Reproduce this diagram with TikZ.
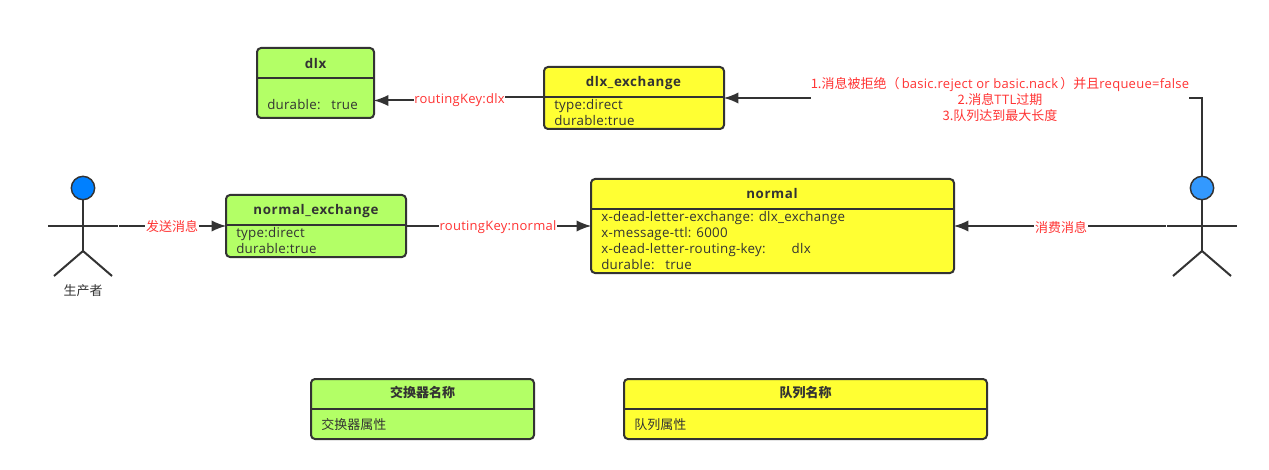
\documentclass[tikz,border=0pt]{standalone}
\usepackage{fontspec}
\setmainfont[LetterSpace=2,BoldFeatures={LetterSpace=4.5}]{Open Sans}
\newfontfamily\cjk{Noto Sans CJK SC}
\usetikzlibrary{arrows.meta}
\definecolor{ink}{HTML}{333333}
\definecolor{redt}{HTML}{FF3333}
\definecolor{gbox}{HTML}{B3FF66}
\definecolor{ybox}{HTML}{FFFF33}
\definecolor{headA}{HTML}{0080FF}
\definecolor{headB}{HTML}{3399FF}
\newlength{\pxu}\setlength{\pxu}{0.75pt}
\tikzset{
 x=0.75pt,y=-0.75pt,
 box/.style={draw=ink,line width=1.5pt,rounded corners=3pt,inner sep=0pt,anchor=north west,xshift=-0.75pt,yshift=0.75pt},
 gb/.style={box,fill=gbox},
 yb/.style={box,fill=ybox},
 div/.style={draw=ink,line width=1.5pt},
 ttl/.style={font=\fontsize{10}{11}\selectfont\bfseries,text=ink,anchor=center,inner sep=0pt,text height=7.5pt,text depth=2pt},
 txt/.style={font=\fontsize{10}{12}\selectfont,text=ink,anchor=west,inner sep=0pt,text height=7.5pt,text depth=2pt},
 conn/.style={draw=ink,line width=1.5pt},
 arr/.style={conn,-{Latex[length=11pt,width=8.5pt]},shorten >=-1pt},
 lbl/.style={font=\fontsize{9.75}{12}\selectfont,text=redt,fill=white,inner sep=0.5pt,align=center},
 act/.style={draw=ink,line width=1.5pt},
 headn/.style={draw=ink,line width=1.1pt,circle,minimum size=17.5pt,inner sep=0pt},
}
\begin{document}
\begin{tikzpicture}
\useasboundingbox (0,0) rectangle (1269,470);
% boxes
\node[gb,minimum width=117\pxu,minimum height=70\pxu] (dlx) at (257,48) {};
\draw[div] (257,78) -- (374,78);
\node[ttl] (dlxT) at (315.5,64.6) {dlx};
\node[txt] (dlxA) at (267,106.3) {durable:\hspace{0.8em}true};

\node[yb,minimum width=180\pxu,minimum height=62\pxu] (dex) at (544,67) {};
\draw[div] (544,97) -- (724,97);
\node[ttl] (dexT) at (633.5,82.5) {dlx\_exchange};
\node[txt] (dexA) at (554,106) {type:direct};
\node[txt] (dexB) at (554,122) {durable:true};

\node[gb,minimum width=180\pxu,minimum height=62\pxu] (nex) at (226,195) {};
\draw[div] (226,225) -- (406,225);
\node[ttl] (nexT) at (316,210.7) {normal\_exchange};
\node[txt] (nexA) at (236,233.6) {type:direct};
\node[txt] (nexB) at (236,249.6) {durable:true};

\node[yb,minimum width=363\pxu,minimum height=94\pxu] (nq) at (591,179) {};
\draw[div] (591,209) -- (954,209);
\node[ttl] (nqT) at (772,194.7) {normal};
\node[txt] (nqA) at (601,217.6) {x-dead-letter-exchange: dlx\_exchange};
\node[txt] (nqB) at (601,233.6) {x-message-ttl: 6000};
\node[txt] (nqC) at (601,249.6) {x-dead-letter-routing-key:\hspace{1.95em}dlx};
\node[txt] (nqD) at (601,265.6) {durable:\hspace{0.8em}true};

\node[gb,minimum width=223\pxu,minimum height=60\pxu] (lg) at (311,379) {};
\draw[div] (311,409) -- (534,409);
\node[ttl] (lgT) at (422.5,394) {\fontsize{9.75}{11}\cjk\bfseries 交换器名称};
\node[txt] (lgA) at (321,425.5) {\fontsize{9.75}{11}\cjk 交换器属性};

\node[yb,minimum width=363\pxu,minimum height=60\pxu] (ly) at (624,379) {};
\draw[div] (624,409) -- (987,409);
\node[ttl] (lyT) at (805.5,394) {\fontsize{9.75}{11}\cjk\bfseries 队列名称};
\node[txt] (lyA) at (634,425.5) {\fontsize{9.75}{11}\cjk 队列属性};

% left actor
\node[headn,fill=headA] (h1) at (83,188) {};
\coordinate (h1hip) at (83,251);
\coordinate (h1la) at (48,226);
\coordinate (h1ra) at (118,226);
\coordinate (h1ll) at (54,276);
\coordinate (h1rl) at (112,276);
\draw[act] (h1.south) -- (h1hip);
\draw[act] (h1la) -- (h1ra);
\draw[act] (h1ll) -- (h1hip) -- (h1rl);
\node[font=\fontsize{9.75}{12}\selectfont\cjk,text=ink,inner sep=0pt] (h1t) at (83,291) {生产者};

% right actor
\node[headn,fill=headB] (h2) at (1202,188) {};
\coordinate (h2hip) at (1202,251);
\coordinate (h2la) at (1167,226);
\coordinate (h2ra) at (1237,226);
\coordinate (h2ll) at (1173,276);
\coordinate (h2rl) at (1231,276);
\draw[act] (h2.south) -- (h2hip);
\draw[act] (h2la) -- (h2ra);
\draw[act] (h2ll) -- (h2hip) -- (h2rl);

% connectors
\coordinate (c1s) at (119,226);
\draw[arr] (c1s) -- (nex.west |- c1s);
\node[lbl] (c1l) at (172,227) {\fontsize{9.75}{11}\cjk 发送消息};

\coordinate (c2s) at (407,226);
\draw[arr] (c2s) -- (nq.west |- c2s);
\node[lbl] (c2l) at (498,227) {routingKey:normal};

\coordinate (c3s) at (1166,226);
\draw[arr] (c3s) -- (nq.east |- c3s);
\node[lbl] (c3l) at (1061,227) {\fontsize{9.75}{11}\cjk 消费消息};

\coordinate (c4m) at (460,97.5);
\coordinate (c4e) at (460,100.5);
\draw[conn] (dex.west |- c4m) -- (c4m);
\draw[arr] (c4e) -- (dlx.east |- c4e);
\node[lbl] (c4l) at (459.5,100) {routingKey:dlx};

\coordinate (c5c) at (1202,98);
\draw[arr] (h2.north) -- (c5c) -- (dex.east |- c5c);
\node[lbl,inner sep=0pt] (c5l) at (1000,99) {{\cjk 1.消息被拒绝（}\,basic.reject or basic.nack\,{\cjk ）并且}requeue=false\\{\cjk 2.消息}TTL{\cjk 过期}\\{\cjk 3.队列达到最大长度}};
\end{tikzpicture}
\end{document}
